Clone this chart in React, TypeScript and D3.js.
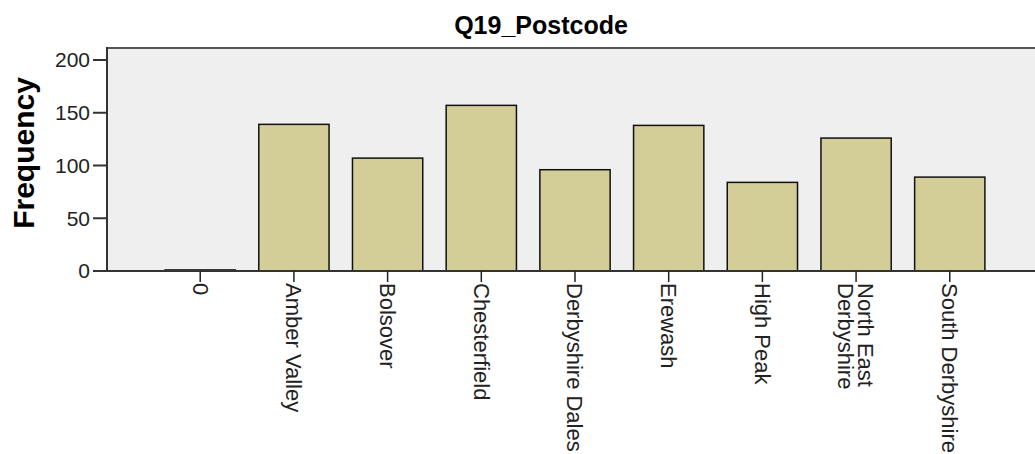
import React from "react";
import * as d3 from "d3";

const categories = ["0", "Amber Valley", "Bolsover", "Chesterfield", "Derbyshire Dales", "Erewash", "High Peak", "North East Derbyshire", "South Derbyshire"];
const labelLines = [["0"], ["Amber Valley"], ["Bolsover"], ["Chesterfield"], ["Derbyshire Dales"], ["Erewash"], ["High Peak"], ["North East", "Derbyshire"], ["South Derbyshire"]];
const frequency = [1, 139, 107, 157, 96, 138, 84, 126, 89];
const yTicks = [0, 50, 100, 150, 200];

const W = 1035, H = 454;
const left = 107, top = 48, bottom = 271, right = 1043;
const font = "'Liberation Sans', Arial, sans-serif";

const App = () => {
    const x = d3.scaleBand()
        .domain(categories)
        .range([left, right])
        .paddingInner(0.25)
        .paddingOuter(0.62);
    const y = d3.scaleLinear().domain([0, 200]).range([bottom, 60]);

    return (
        <svg width={W} height={H} style={{ position: "absolute", left: 0, top: 0 }}>
            <text x={541} y={34} textAnchor="middle" fontFamily={font} fontWeight="bold" fontSize={25}>Q19_Postcode</text>

            <rect x={left} y={top} width={W - left} height={bottom - top} fill="#efefef" />
            <line x1={left} x2={W} y1={top} y2={top} stroke="#555" strokeWidth={2} />

            {categories.map((c, i) => {
                const v = frequency[i];
                return (
                    <rect key={c} x={x(c)} y={y(v)} width={x.bandwidth()} height={y(0) - y(v)}
                        fill="#d3ce97" stroke="#111" strokeWidth={1.5} />
                );
            })}

            <line x1={left} x2={W} y1={bottom} y2={bottom} stroke="#333" strokeWidth={2} />
            <line x1={left} x2={left} y1={top - 1} y2={bottom + 1} stroke="#333" strokeWidth={2} />

            {yTicks.map(t => (
                <g key={t}>
                    <line x1={93} x2={left} y1={y(t)} y2={y(t)} stroke="#333" strokeWidth={2} />
                    <text x={90} y={y(t)} dy="0.35em" textAnchor="end" fontFamily={font} fontSize={21} fill="#222">{t}</text>
                </g>
            ))}

            {categories.map((c, i) => {
                const cx = x(c)! + x.bandwidth() / 2;
                const lines = labelLines[i];
                return (
                    <g key={c}>
                        <line x1={cx} x2={cx} y1={bottom} y2={bottom + 11} stroke="#222" strokeWidth={1.5} />
                        <text transform={`translate(${cx},${bottom + 12}) rotate(90)`} fontFamily={font} fontSize={22} fill="#222">
                            {lines.map((l, j) => (
                                <tspan key={j} x={0} y={0} dy={`${0.35 - (lines.length - 1) * 0.45 + j * 0.92}em`}>{l}</tspan>
                            ))}
                        </text>
                    </g>
                );
            })}

            <text transform={`translate(34,153) rotate(-90)`} textAnchor="middle" fontFamily={font} fontWeight="bold" fontSize={30}>Frequency</text>
        </svg>
    );
};

export default App;
